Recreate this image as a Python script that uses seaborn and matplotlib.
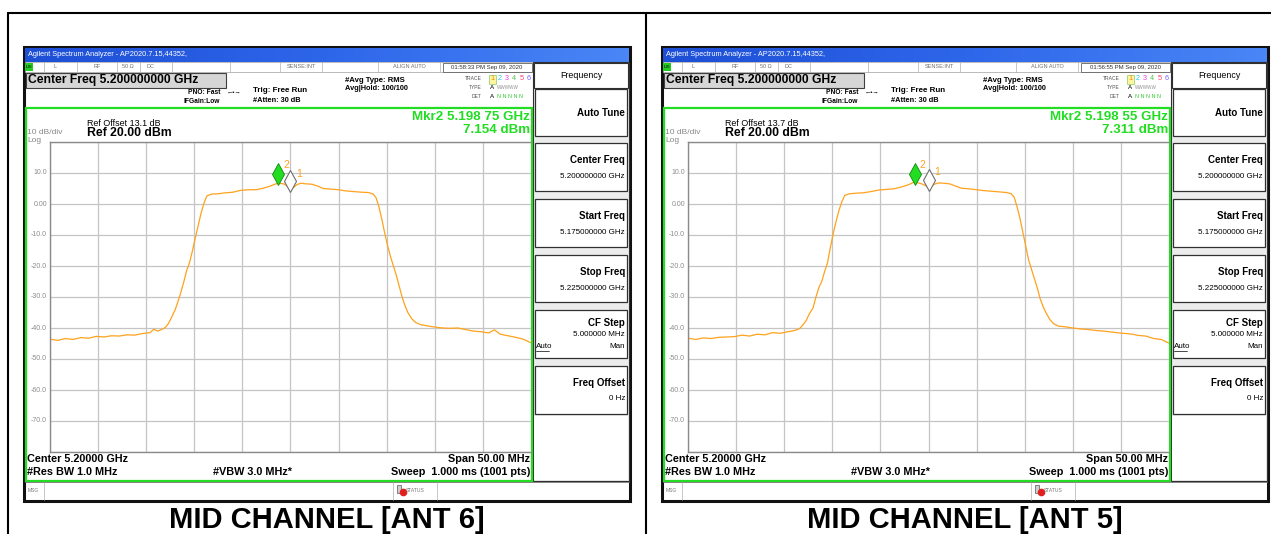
import numpy as np
import matplotlib
matplotlib.use('Agg')
import matplotlib.pyplot as plt
import seaborn as sns
from matplotlib.patches import Rectangle
from matplotlib.colors import LinearSegmentedColormap

sns.set_theme(style='white')
plt.rcParams['font.family'] = ['Liberation Sans', 'DejaVu Sans']

# offset from centre frequency 5.2 GHz, MHz
freq = [-25.0, -24.2, -23.4, -22.6, -21.8, -21.0, -20.2, -19.4, -18.6, -17.8,
        -17.0, -16.2, -15.4, -14.6, -14.2, -13.8, -13.4, -13.0, -12.7, -12.4,
        -12.0, -11.7, -11.4, -11.1, -10.8, -10.5, -10.2, -9.9, -9.6, -9.3,
        -9.0, -8.7, -8.2, -7.5, -6.8, -6.0, -5.2, -4.4, -3.6, -2.8,
        -2.1, -1.6, -1.3, -0.7, -0.3, 0.0, 0.3, 0.7, 1.1, 1.6,
        2.2, 2.8, 3.4, 4.2, 5.0, 5.8, 6.6, 7.4, 8.1, 8.6,
        8.9, 9.2, 9.5, 9.8, 10.1, 10.4, 10.7, 11.0, 11.3, 11.6,
        11.9, 12.2, 12.6, 13.0, 13.5, 14.2, 15.0, 15.8, 16.6, 17.4,
        18.2, 19.0, 19.8, 20.6, 21.2, 21.8, 22.6, 23.4, 24.2, 25.0]

# trace levels, dBm
level_ant6 = [-43.6, -44.0, -43.4, -43.7, -43.1, -43.3, -42.7, -42.9, -42.5, -42.6,
              -42.2, -42.3, -41.8, -41.5, -40.4, -41.0, -40.5, -39.8, -38.6, -36.8,
              -34.2, -31.5, -28.5, -25.2, -21.5, -19.0, -15.2, -11.0, -7.0, -3.0,
              0.2, 2.6, 3.2, 3.3, 3.6, 3.8, 4.4, 4.6, 4.6, 5.1,
              5.8, 6.4, 6.7, 6.5, 5.7, 5.0, 5.3, 6.3, 6.7, 6.5,
              6.4, 5.8, 5.0, 4.8, 4.6, 4.2, 4.0, 3.8, 3.7, 3.2,
              2.0, -1.0, -5.0, -9.5, -13.5, -17.0, -20.0, -23.0, -26.5, -30.0,
              -32.8, -35.0, -37.0, -38.2, -38.9, -39.3, -39.7, -40.0, -40.1, -40.0,
              -40.5, -41.0, -41.2, -41.6, -40.6, -42.0, -42.5, -43.0, -43.6, -44.8]

level_ant5 = [-43.3, -43.7, -43.2, -43.4, -43.0, -42.9, -42.8, -42.3, -42.6, -42.0,
              -42.2, -41.5, -41.7, -41.2, -41.0, -40.7, -40.2, -38.8, -37.5, -35.5,
              -33.5, -30.0, -27.0, -25.0, -21.8, -19.0, -14.0, -9.5, -5.5, -2.0,
              0.8, 2.8, 3.3, 3.5, 3.6, 4.0, 4.5, 4.7, 4.9, 5.5,
              6.2, 6.9, 7.0, 6.5, 5.9, 5.4, 5.8, 6.5, 6.8, 6.7,
              6.5, 5.8, 5.1, 4.9, 4.6, 4.3, 4.1, 3.9, 3.7, 3.3,
              2.2, -0.8, -4.5, -9.0, -13.5, -18.0, -21.0, -24.0, -27.0, -30.5,
              -33.0, -35.0, -37.2, -38.6, -39.4, -39.6, -40.0, -40.3, -40.5, -40.8,
              -41.0, -41.3, -41.6, -41.8, -42.0, -42.4, -42.6, -43.4, -43.7, -44.9]

# markers (MHz offset, dBm)
mkr2_ant6 = (-1.25, 7.154)
mkr1_ant6 = (0.0, 5.0)
mkr2_ant5 = (-1.45, 7.311)
mkr1_ant5 = (0.0, 5.4)

ytick_labels = ['10.0', '0.00', '-10.0', '-20.0', '-30.0', '-40.0', '-50.0', '-60.0', '-70.0']
ytick_values = [10, 0, -10, -20, -30, -40, -50, -60, -70]

W, H = 1271, 534
ORANGE = '#ffa21c'
GREEN = '#22dd22'


def rect(ax, x, y, w, h, fc='white', ec='none', lw=0.8, z=1):
    ax.add_patch(Rectangle((x, y), w, h, facecolor=fc, edgecolor=ec, linewidth=lw, zorder=z))


def txt(ax, x, y, s, size, color='black', weight='normal', ha='left', z=5):
    ax.text(x, y, s, fontsize=size, color=color, fontweight=weight, ha=ha, va='center', zorder=z)


def draw_screen(fig, bg, ox, level, mkr2, mkr1, ref_offset, mkr_freq, mkr_level, stamp, caption):
    X = lambda v: v + ox

    # outer frame of screenshot
    rect(bg, X(24), 47, 606, 454, fc='white', ec='#111111', lw=2.2, z=1)

    # title bar
    cmap = LinearSegmentedColormap.from_list('bar', ['#1d4fd6', '#2e66ea', '#4a86f6'])
    bg.imshow(np.linspace(0, 1, 200)[None, :], cmap=cmap, aspect='auto',
              extent=[X(25), X(629), 62, 48], zorder=2)
    txt(bg, X(28), 55, 'Agilent Spectrum Analyzer - AP2020.7.15,44352,', 5.3, color='white', z=6)

    # status row
    rect(bg, X(25), 62, 508, 10, fc='white', ec='#a0a0a0', lw=0.5, z=3)
    rect(bg, X(25), 63, 8, 8, fc='#22cc22', z=4)
    txt(bg, X(26), 67, 'LXI', 3.2, z=6)
    for dx in [44, 77, 117, 140, 172, 230, 280, 322, 378, 440]:
        bg.plot([X(dx), X(dx)], [62, 72], color='#b0b0b0', lw=0.5, zorder=4)
    rect(bg, X(443), 62.5, 89, 9, fc='white', ec='#606060', lw=0.6, z=4)
    for s, cx in [('L', 55), ('RF', 97), ('50 Ω', 128), ('DC', 150),
                  ('SENSE:INT', 301), ('ALIGN AUTO', 409)]:
        txt(bg, X(cx), 67, s, 4.0, color='#707070', ha='center', z=6)
    txt(bg, X(487), 67, stamp, 4.3, color='#333333', ha='center', z=6)

    # centre freq box and settings
    rect(bg, X(26), 73, 200, 15, fc='#d6d6d6', ec='#404040', lw=0.8, z=3)
    txt(bg, X(28), 80.5, 'Center Freq 5.200000000 GHz', 8.7, weight='bold', z=6)
    txt(bg, X(188), 93, 'PNO: Fast', 4.8, weight='bold', z=6)
    txt(bg, X(227), 93, '\u2190\u2022\u2192', 4.5, z=6)
    txt(bg, X(184), 101.5, 'IFGain:Low', 4.8, weight='bold', z=6)
    txt(bg, X(253), 90.5, 'Trig: Free Run', 5.8, weight='bold', z=6)
    txt(bg, X(253), 100, '#Atten: 30 dB', 5.3, weight='bold', z=6)
    txt(bg, X(345), 80, '#Avg Type: RMS', 5.6, weight='bold', z=6)
    txt(bg, X(345), 89, 'Avg|Hold: 100/100', 5.3, weight='bold', z=6)

    # trace legend
    txt(bg, X(482), 79, 'TRACE', 3.6, color='#555555', ha='right', z=6)
    txt(bg, X(482), 87.5, 'TYPE', 3.6, color='#555555', ha='right', z=6)
    txt(bg, X(482), 96, 'DET', 3.6, color='#555555', ha='right', z=6)
    rect(bg, X(488.5), 74.5, 7, 9, fc='#fff4a0', ec='#88cc66', lw=0.5, z=4)
    for s, cx, c in [('1', 492, '#f09010'), ('2', 499.4, '#20c8e8'), ('3', 506.8, '#e040e0'),
                     ('4', 514.2, '#50c050'), ('5', 521.6, '#ff4070'), ('6', 529, '#7a5cff')]:
        txt(bg, X(cx), 79, s, 5.2, color=c, ha='center', z=6)
    txt(bg, X(492), 87.5, 'A', 4.5, ha='center', z=6)
    txt(bg, X(497), 87.5, 'WWWWW', 3.3, color='#909090', z=6)
    txt(bg, X(492), 96, 'A', 4.5, ha='center', z=6)
    txt(bg, X(497), 96, 'N N N N N', 3.9, color='#33cc33', z=6)

    # green measurement box
    rect(bg, X(26), 108, 506, 373, fc='none', ec=GREEN, lw=1.6, z=4)
    txt(bg, X(87), 123, 'Ref Offset ' + ref_offset, 6.4, z=6)
    txt(bg, X(87), 133.5, 'Ref 20.00 dBm', 8.8, weight='bold', z=6)
    txt(bg, X(27), 133, '10 dB/div', 6, color='#888888', z=6)
    txt(bg, X(27), 140.5, 'Log', 6, color='#888888', z=6)
    txt(bg, X(530), 117, mkr_freq, 9.6, color=GREEN, weight='bold', ha='right', z=6)
    txt(bg, X(530), 130, mkr_level, 9.6, color=GREEN, weight='bold', ha='right', z=6)

    # grid y labels
    for s, v in zip(ytick_labels, ytick_values):
        y = 142 + (20 - v) * 31.0 / 10
        txt(bg, X(47), y, s, 5.0, color='#8c8c8c', ha='right', z=6)

    # bottom annotations
    txt(bg, X(27), 459, 'Center 5.20000 GHz', 7.8, weight='bold', z=6)
    txt(bg, X(530), 459, 'Span 50.00 MHz', 7.8, weight='bold', ha='right', z=6)
    txt(bg, X(27), 472, '#Res BW 1.0 MHz', 7.8, weight='bold', z=6)
    txt(bg, X(213), 472, '#VBW 3.0 MHz*', 7.8, weight='bold', z=6)
    txt(bg, X(530), 472, 'Sweep  1.000 ms (1001 pts)', 7.8, weight='bold', ha='right', z=6)

    # message row
    bg.plot([X(25), X(629)], [482, 482], color='#707070', lw=0.6, zorder=4)
    bg.plot([X(44), X(44)], [482, 500], color='#b0b0b0', lw=0.5, zorder=4)
    bg.plot([X(393), X(393)], [482, 500], color='#b0b0b0', lw=0.5, zorder=4)
    bg.plot([X(437), X(437)], [482, 500], color='#b0b0b0', lw=0.5, zorder=4)
    txt(bg, X(28), 490, 'MSG', 3.6, color='#777777', z=6)
    rect(bg, X(397), 485, 4, 8, fc='#cfcfcf', ec='#555555', lw=0.5, z=5)
    bg.plot([X(402.5)], [492], marker='o', ms=4.5, color='#e02020', zorder=6)
    txt(bg, X(405.5), 490, 'STATUS', 3.6, color='#777777', z=6)

    # softkey panel
    rect(bg, X(533), 62, 96, 419, fc='#ececec', ec='#303030', lw=0.8, z=3)
    rect(bg, X(534), 63, 94, 25, fc='white', ec='#303030', lw=0.8, z=4)
    txt(bg, X(581), 75.5, 'Frequency', 6.4, ha='center', z=6)
    keys = [(89, 136, 'Auto Tune', None), (143, 191, 'Center Freq', '5.200000000 GHz'),
            (199, 247, 'Start Freq', '5.175000000 GHz'), (255, 302, 'Stop Freq', '5.225000000 GHz'),
            (310, 358, 'CF Step', '5.000000 MHz'), (366, 414, 'Freq Offset', '0 Hz')]
    for y0, y1, name, val in keys:
        rect(bg, X(535), y0, 92, y1 - y0, fc='white', ec='#303030', lw=0.9, z=4)
        if val is None:
            txt(bg, X(625), (y0 + y1) / 2, name, 7, weight='bold', ha='right', z=6)
        elif name == 'CF Step':
            txt(bg, X(625), y0 + 13, name, 7, weight='bold', ha='right', z=6)
            txt(bg, X(625), y0 + 25, val, 5.8, ha='right', z=6)
            txt(bg, X(625), y0 + 36, 'Man', 5.8, ha='right', z=6)
            txt(bg, X(536), y0 + 36, 'Auto', 5.8, z=6)
            bg.plot([X(536), X(549)], [y0 + 40.5, y0 + 40.5], color='black', lw=0.5, zorder=6)
        else:
            txt(bg, X(625), y0 + 17, name, 7, weight='bold', ha='right', z=6)
            txt(bg, X(625), y0 + 33, val, 5.8, ha='right', z=6)
    rect(bg, X(534), 416, 94, 64, fc='white', ec='none', z=4)

    # caption
    txt(bg, X(327), 520, caption, 21, weight='bold', ha='center', z=6)

    # the trace grid
    gx0, gx1, gy0, gy1 = X(50), X(531), 142, 452
    ax = fig.add_axes([gx0 / W, 1 - gy1 / H, (gx1 - gx0) / W, (gy1 - gy0) / H])
    ax.set_facecolor('white')
    sns.lineplot(x=freq, y=level, ax=ax, color=ORANGE, linewidth=0.9, sort=False, estimator=None)
    ax.set_xlim(-25, 25)
    ax.set_ylim(-80, 20)
    ax.set_xticks(np.arange(-25, 26, 5))
    ax.set_yticks(np.arange(-80, 21, 10))
    ax.grid(True, color='#c4c4c4', linewidth=0.9)
    ax.tick_params(length=0, labelbottom=False, labelleft=False)
    ax.set_xlabel('')
    ax.set_ylabel('')
    for sp in ax.spines.values():
        sp.set_color('#8a8a8a')
        sp.set_linewidth(1.0)
    ax.spines['right'].set_visible(False)

    ax.plot(mkr2[0], mkr2[1] + 2.5, marker='d', ms=11, mfc='#22dd22', mec='#0e8a0e',
            mew=0.6, ls='none', zorder=6, clip_on=False)
    ax.plot(mkr1[0], mkr1[1] + 2.5, marker='d', ms=11, mfc='white', mec='#6e6e6e',
            mew=0.8, ls='none', zorder=6, clip_on=False)
    ax.text(mkr2[0] + 0.85, mkr2[1] + 5.3, '2', color=ORANGE, fontsize=7.5, ha='center', va='center')
    ax.text(mkr1[0] + 0.85, mkr1[1] + 4.8, '1', color=ORANGE, fontsize=7.5, ha='center', va='center')


fig = plt.figure(figsize=(W / 100, H / 100), dpi=100)
fig.patch.set_facecolor('white')
bg = fig.add_axes([0, 0, 1, 1])
bg.set_facecolor('white')

# page table lines
bg.plot([8, W], [13, 13], color='black', lw=1.5, zorder=1)
bg.plot([8, 8], [13, H], color='black', lw=1.5, zorder=1)
bg.plot([646, 646], [13, H], color='black', lw=1.5, zorder=1)

draw_screen(fig, bg, 0, level_ant6, mkr2_ant6, mkr1_ant6, '13.1 dB',
            'Mkr2 5.198 75 GHz', '7.154 dBm', '01:58:33 PM Sep 09, 2020', 'MID CHANNEL [ANT 6]')
draw_screen(fig, bg, 638, level_ant5, mkr2_ant5, mkr1_ant5, '13.7 dB',
            'Mkr2 5.198 55 GHz', '7.311 dBm', '01:56:55 PM Sep 09, 2020', 'MID CHANNEL [ANT 5]')

bg.set_xlim(0, W)
bg.set_ylim(H, 0)
bg.axis('off')

fig.savefig('out.png', dpi=100, facecolor='white')
